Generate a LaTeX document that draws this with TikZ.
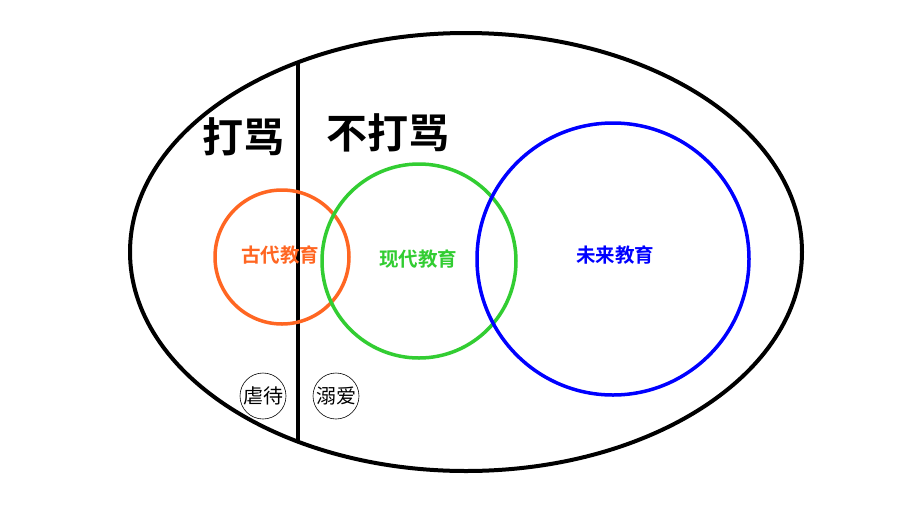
\documentclass[tikz,border=0pt]{standalone}
\usepackage{fontspec}
\newfontfamily\cjk{Noto Sans CJK SC}
\newfontfamily\cjkb{Noto Sans CJK SC Bold}
\definecolor{oldc}{RGB}{255,102,34}
\definecolor{nowc}{RGB}{50,205,50}
\definecolor{futc}{RGB}{0,0,255}
\begin{document}
\begin{tikzpicture}[x=1pt,y=-1pt,
  ring/.style={line width=4pt},
  bigtitle/.style={font=\cjkb\fontsize{41}{43}\selectfont, inner sep=0pt},
  label/.style={font=\cjkb\fontsize{19.5}{21}\selectfont, inner sep=0pt},
  tagc/.style={draw, circle, line width=0.6pt, minimum size=46pt, inner sep=0pt, font=\cjk\fontsize{20}{22}\selectfont}]
\useasboundingbox[fill=white] (0,0) rectangle (903,515);
\draw[ring] (466,252) ellipse [x radius=336, y radius=219];
\coordinate (vt) at (298,62);
\coordinate (vb) at (298,442);
\draw[line width=4pt] (vt) -- (vb);
\draw[oldc, line width=3.5pt] (282,257) circle [radius=67];
\draw[nowc, line width=3.5pt] (419,261) circle [radius=97];
\draw[futc, line width=3.5pt] (613,259) circle [radius=136];
\node[bigtitle] (t1) at (243,137) {打骂};
\node[bigtitle] (t2) at (388,133) {不打骂};
\node[label, text=oldc] (l1) at (280,255) {古代教育};
\node[label, text=nowc] (l2) at (418,259) {现代教育};
\node[label, text=futc] (l3) at (615,255) {未来教育};
\node[tagc] (a1) at (263,396) {虐待};
\node[tagc] (a2) at (336,396) {溺爱};
\end{tikzpicture}
\end{document}
